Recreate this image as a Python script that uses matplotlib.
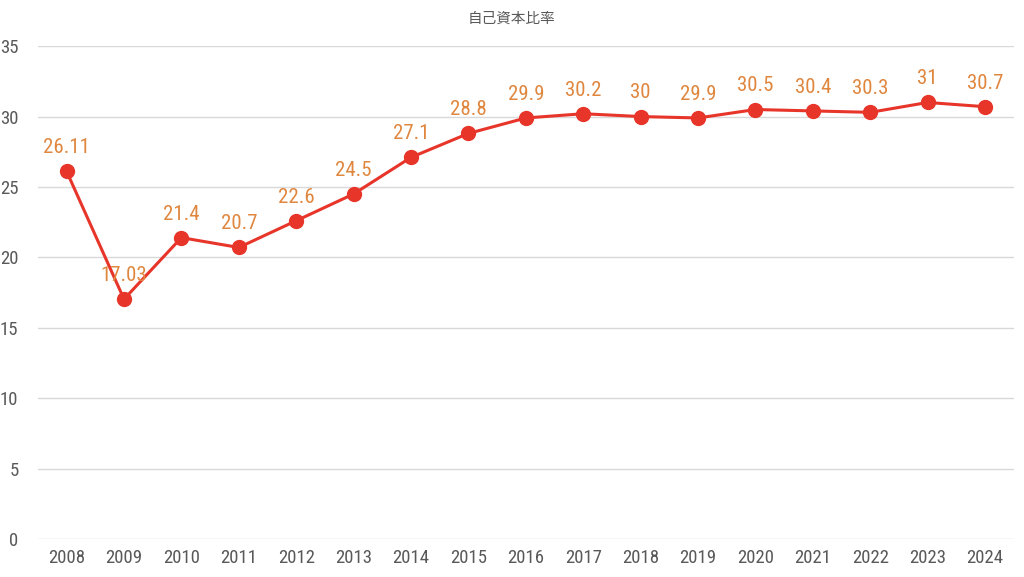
import matplotlib.pyplot as plt
import numpy as np

plt.rcParams['font.family'] = ['Roboto Condensed', 'Noto Sans CJK JP', 'DejaVu Sans']

years = ['2008', '2009', '2010', '2011', '2012', '2013', '2014', '2015', '2016',
         '2017', '2018', '2019', '2020', '2021', '2022', '2023', '2024']
ratio = [26.11, 17.03, 21.4, 20.7, 22.6, 24.5, 27.1, 28.8, 29.9,
         30.2, 30, 29.9, 30.5, 30.4, 30.3, 31, 30.7]
labels = ['26.11', '17.03', '21.4', '20.7', '22.6', '24.5', '27.1', '28.8', '29.9',
          '30.2', '30', '29.9', '30.5', '30.4', '30.3', '31', '30.7']

fig = plt.figure(figsize=(10.24, 5.77), dpi=100)
ax = fig.add_axes([0.037, 0.066, 0.953, 0.854])

x = np.arange(len(years))
ax.plot(x, ratio, color='#E8352A', linewidth=2.2, marker='o', markersize=10, zorder=3)

for xi, yi, lab in zip(x, ratio, labels):
    ax.annotate(lab, (xi, yi), xytext=(0, 17), textcoords='offset points',
                ha='center', va='center', color='#E0873F', fontsize=15)

ax.set_xlim(-0.5, len(years) - 0.5)
ax.set_ylim(0, 35)
ax.set_yticks(np.arange(0, 36, 5))
ax.set_xticks(x)
ax.set_xticklabels(years)
ax.tick_params(axis='both', length=0, labelsize=13.5, colors='#595959')
ax.tick_params(axis='y', pad=14)
ax.tick_params(axis='x', pad=7)
ax.grid(axis='y', color='#D9D9D9', linewidth=1)
ax.set_axisbelow(True)
for s in ax.spines.values():
    s.set_visible(False)

fig.text(0.5, 0.968, '自己資本比率', ha='center', va='center', fontsize=10.5,
         color='#595959', family=['Noto Sans CJK JP'])

plt.savefig('out.png', dpi=100)
